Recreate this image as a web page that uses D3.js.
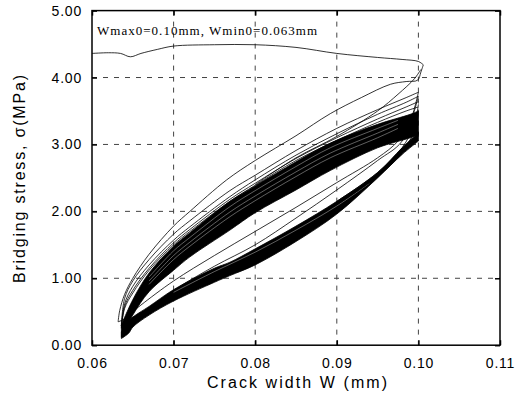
<!DOCTYPE html>
<html><head><meta charset="utf-8">
<script src="https://cdn.jsdelivr.net/npm/d3@7"></script>
<style>
html,body{margin:0;padding:0;background:#fff;}
svg{display:block;}
</style></head>
<body>
<script>
// ---- tick values / labels ----
const xTicks = [0.06, 0.07, 0.08, 0.09, 0.10, 0.11];
const yTicks = [0, 1, 2, 3, 4, 5];
const xGrid = [0.07, 0.08, 0.09, 0.10];
const yGrid = [1, 2, 3, 4];
const xTitle = "Crack width W (mm)";
const yTitle = "Bridging stress, \u03c3(MPa)";
const note = "Wmax0=0.10mm, Wmin0=0.063mm";

// ---- first loading curve (top) ----
const topW = [0.0600,0.0620,0.0635,0.0647,0.0660,0.0680,0.0700,0.0750,0.0800,0.0850,0.0900,0.0950,0.0980,0.1000,0.1006];
const topS = [4.36,4.37,4.36,4.31,4.36,4.42,4.47,4.49,4.49,4.45,4.36,4.30,4.27,4.24,4.19];

// ---- individual unloading curves ----
const u1W = [0.1006,0.1003,0.0999,0.0985,0.0966,0.0930,0.0892,0.0850,0.0800,0.0765,0.0720,0.0700,0.0670,0.0650,0.0640,0.0634,0.0632];
const u1S = [4.19,4.08,3.96,3.94,3.90,3.70,3.46,3.13,2.76,2.47,2.00,1.78,1.36,1.00,0.76,0.52,0.35];
const uW  = [0.1000,0.0985,0.0950,0.0900,0.0850,0.0800,0.0769,0.0720,0.0700,0.0670,0.0650,0.0640,0.0636];
const u2S = [3.78,3.70,3.52,3.24,2.91,2.54,2.31,1.86,1.66,1.28,0.96,0.70,0.32];
const u3S = [3.72,3.63,3.45,3.16,2.84,2.47,2.22,1.77,1.57,1.20,0.88,0.62,0.28];
const u4S = [3.64,3.56,3.38,3.10,2.79,2.42,2.18,1.73,1.53,1.15,0.82,0.58,0.26];
const u5S = [3.56,3.50,3.33,3.06,2.76,2.39,2.15,1.70,1.50,1.12,0.78,0.55,0.25];

// ---- individual reloading curves ----
const l1W = [0.0632,0.0638,0.0645,0.0660,0.0700,0.0750,0.0800,0.0850,0.0900,0.0950,0.0975,0.0990,0.1000];
const l1S = [0.35,0.38,0.45,0.60,0.96,1.34,1.70,2.06,2.43,2.80,3.05,3.35,3.78];
const l2W = [0.0635,0.0645,0.0660,0.0700,0.0750,0.0800,0.0850,0.0900,0.0950,0.0980,0.1000];
const l2S = [0.30,0.38,0.48,0.82,1.18,1.50,1.90,2.32,2.76,3.05,3.72];
const r1W = [0.0800,0.0850,0.0900,0.0950,0.0975,0.0995,0.1003];
const r1S = [2.40,2.80,3.12,3.50,3.75,3.98,4.12];
const rW  = [0.0900,0.0950,0.0980,0.0995,0.1000];
const r2S = [2.15,2.58,2.95,3.30,3.60];
const r3S = [2.10,2.52,2.88,3.20,3.45];

// ---- dense bands of cycles (envelopes) ----
const ubW   = [0.0636,0.0650,0.0670,0.0700,0.0720,0.0769,0.0800,0.0850,0.0892,0.0950,0.0990,0.1000];
const ubTop = [0.30,0.68,1.08,1.48,1.68,2.15,2.38,2.74,3.02,3.30,3.45,3.50];
const ubBot = [0.12,0.45,0.80,1.12,1.32,1.72,1.98,2.32,2.61,2.95,3.10,3.15];
const lbW   = [0.0636,0.0645,0.0650,0.0670,0.0700,0.0750,0.0769,0.0800,0.0850,0.0900,0.0950,0.0980,0.1000];
const lbTop = [0.20,0.36,0.42,0.58,0.83,1.15,1.24,1.44,1.78,2.15,2.58,2.95,3.18];
const lbBot = [0.10,0.18,0.27,0.45,0.66,0.94,1.04,1.20,1.55,1.96,2.50,2.85,3.05];

// ---- thin light gaps seen inside the dense bands ----
const sW  = [0.0670,0.0700,0.0720,0.0769,0.0800,0.0850,0.0892,0.0950,0.0975];
const s1S = [1.02,1.41,1.61,2.07,2.31,2.67,2.95,3.24,3.36];
const s2S = [0.96,1.34,1.54,1.99,2.23,2.59,2.87,3.17,3.30];
const s3S = [0.91,1.28,1.48,1.92,2.16,2.52,2.80,3.10,3.24];
const s4W = [0.0700,0.0750,0.0800,0.0850,0.0900,0.0940];
const s4S = [0.79,1.10,1.39,1.72,2.08,2.42];

// ---- drawing ----
const width = 515, height = 397;
const svg = d3.select("body").append("svg").attr("width", width).attr("height", height);
const x = d3.scaleLinear().domain([0.06, 0.11]).range([92, 500]);
const y = d3.scaleLinear().domain([0, 5]).range([345.2, 10.6]);
const X0 = x.range()[0], X1 = x.range()[1], Y0 = y.range()[0], Y1 = y.range()[1];

const font = "Arial, 'Liberation Sans', sans-serif";

// grid
const g = svg.append("g");
g.selectAll(".vg").data(xGrid).enter().append("line")
  .attr("x1", d => x(d)).attr("x2", d => x(d)).attr("y1", Y1).attr("y2", Y0)
  .attr("stroke", "#444").attr("stroke-width", 1).attr("stroke-dasharray", "5,6");
g.selectAll(".hg").data(yGrid).enter().append("line")
  .attr("x1", X0).attr("x2", X1).attr("y1", d => y(d)).attr("y2", d => y(d))
  .attr("stroke", "#444").attr("stroke-width", 1).attr("stroke-dasharray", "5,6");

const pts = (W, S) => W.map((w, i) => [x(w), y(S[i])]);
const lineGen = d3.line().curve(d3.curveCatmullRom.alpha(0.5));

// bands
function band(W, top, bot) {
  const a = lineGen(pts(W, top));
  const b = lineGen(pts(W, bot).reverse());
  return a + "L" + b.slice(1) + "Z";
}
const plot = svg.append("g");
plot.append("path").attr("d", band(ubW, ubTop, ubBot)).attr("fill", "#000").attr("stroke", "#000").attr("stroke-width", 0.8);
plot.append("path").attr("d", band(lbW, lbTop, lbBot)).attr("fill", "#000").attr("stroke", "#000").attr("stroke-width", 0.8);

// light streaks inside bands
const streaks = [[sW, s1S], [sW, s2S], [sW, s3S], [s4W, s4S]];
plot.selectAll(".s").data(streaks).enter().append("path")
  .attr("d", d => lineGen(pts(d[0], d[1])))
  .attr("fill", "none").attr("stroke", "#fff").attr("stroke-width", 0.5).attr("stroke-opacity", 0.75);

// individual curves
const curves = [
  [topW, topS], [u1W, u1S], [uW, u2S], [uW, u3S], [uW, u4S], [uW, u5S],
  [l1W, l1S], [l2W, l2S], [r1W, r1S], [rW, r2S], [rW, r3S]
];
plot.selectAll(".c").data(curves).enter().append("path")
  .attr("d", d => lineGen(pts(d[0], d[1])))
  .attr("fill", "none").attr("stroke", "#000").attr("stroke-width", 0.8);

// axes
const fmt = d3.format(".2f");
const axB = svg.append("g").attr("transform", `translate(0,${Y0})`)
  .call(d3.axisBottom(x).tickValues(xTicks).tickFormat(fmt).tickSizeInner(-5).tickSizeOuter(0).tickPadding(13));
const axL = svg.append("g").attr("transform", `translate(${X0},0)`)
  .call(d3.axisLeft(y).tickValues(yTicks).tickFormat(fmt).tickSizeInner(-5).tickSizeOuter(0).tickPadding(10));
const axT = svg.append("g").attr("transform", `translate(0,${Y1})`)
  .call(d3.axisTop(x).tickValues(xTicks).tickFormat("").tickSizeInner(-5).tickSizeOuter(0));
const axR = svg.append("g").attr("transform", `translate(${X1},0)`)
  .call(d3.axisRight(y).tickValues(yTicks).tickFormat("").tickSizeInner(-5).tickSizeOuter(0));
[axB, axL, axT, axR].forEach(a => {
  a.select(".domain").remove();
  a.selectAll(".tick line").attr("stroke", "#000").attr("stroke-width", 1.5);
  a.selectAll("text").attr("fill", "#000").style("font-family", font).style("font-size", "14px").style("letter-spacing", "0.8px");
});

// frame
svg.append("rect").attr("x", X0).attr("y", Y1).attr("width", X1 - X0).attr("height", Y0 - Y1)
  .attr("fill", "none").attr("stroke", "#000").attr("stroke-width", 1.5);

// titles
svg.append("text").attr("x", 297).attr("y", 388).attr("text-anchor", "middle")
  .attr("textLength", 180).attr("lengthAdjust", "spacing")
  .style("font-family", font).style("font-size", "16px").attr("fill", "#000").text(xTitle);
svg.append("text").attr("transform", "translate(25,179) rotate(-90)").attr("text-anchor", "middle")
  .attr("textLength", 208).attr("lengthAdjust", "spacing")
  .style("font-family", font).style("font-size", "16px").attr("fill", "#000").text(yTitle);
svg.append("text").attr("x", 97).attr("y", 35)
  .attr("textLength", 220).attr("lengthAdjust", "spacing")
  .style("font-family", "'Liberation Serif', 'Times New Roman', serif").style("font-size", "13px").attr("fill", "#000").text(note);
</script>
</body></html>
